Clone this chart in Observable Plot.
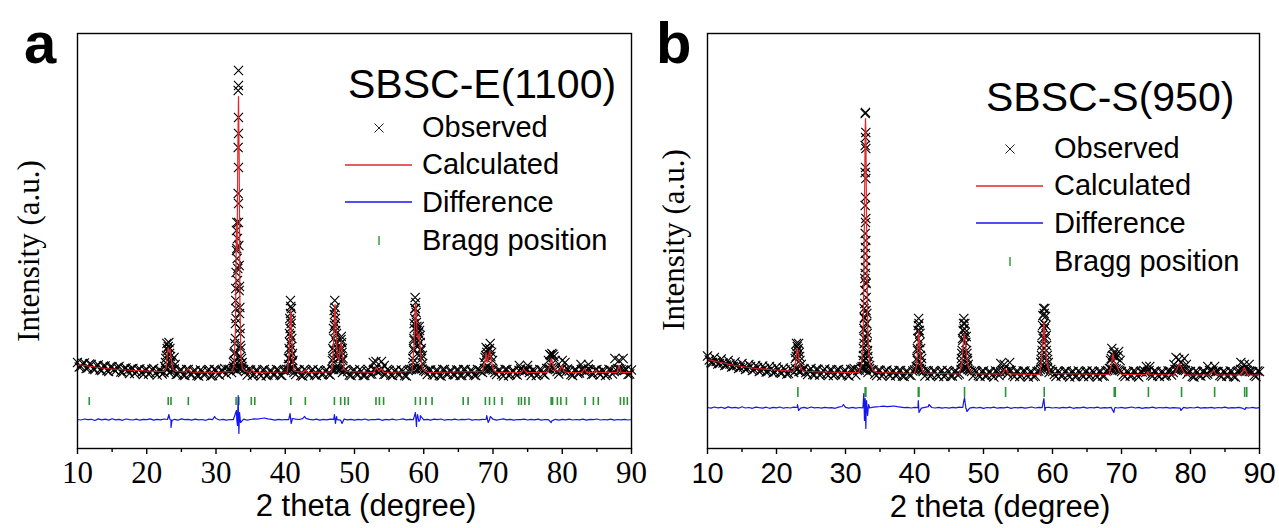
<!DOCTYPE html>
<html><head><meta charset="utf-8">
<script src="https://cdn.jsdelivr.net/npm/d3@7"></script>
<script src="https://cdn.jsdelivr.net/npm/@observablehq/plot@0.6"></script>
<style>
html,body{margin:0;padding:0;background:#fff;}
#wrap{position:relative;width:1279px;height:528px;overflow:hidden;background:#fff;}
#wrap > svg, #wrap > figure{position:absolute;top:0;margin:0;}
.t{position:absolute;white-space:nowrap;line-height:1;color:#000;}
.sans{font-family:"Liberation Sans",Arial,sans-serif;}
.serif{font-family:"Liberation Serif","Times New Roman",serif;}
</style></head><body><div id="wrap"></div>
<script>
// ---------- shared axis ticks ----------
const xMajor = [10, 20, 30, 40, 50, 60, 70, 80, 90];
const xMinor = [15, 25, 35, 45, 55, 65, 75, 85];
// observed scan background, read on two interleaved 0.5-degree grids (10, 10.5, ... and 10.25, 10.75, ...)
const gridStart1 = 10, gridStart2 = 10.25, gridStep = 0.5;

// ---------- panel a : SBSC-E(1100) ----------
const obsGridA = [860,820,855,805,840,790,835,780,825,770,815,775,820,760,805,750,800,765,795,740,
790,755,800,735,780,760,790,770,795,745,785,730,790,740,780,725,775,745,790,730,
785,735,775,745,790,800,780,800,790,735,785,740,780,725,790,735,775,740,785,730,
780,790,800,740,785,725,780,740,790,730,775,745,785,735,790,800,795,780,770,730,
785,740,775,730,790,745,790,770,795,745,780,730,785,740,775,725,790,800,790,805,
780,740,785,735,780,725,790,745,775,735,785,730,790,745,775,730,785,760,800,795,
785,740,780,725,790,740,775,735,795,770,790,730,780,740,785,735,800,810,790,745,
800,765,775,730,785,755,800,770,785,745,790,735,775,740,785,770,800,790,780,740,785];
const obsGrid2A = [815,850,800,845,795,830,785,825,780,815,790,810,
765,800,780,795,750,790,760,785,745,790,755,780,
745,800,760,790,740,780,735,790,745,775,730,785,
740,780,725,790,745,780,800,790,760,795,805,800,
770,790,730,780,745,785,730,775,740,790,735,780,
790,795,760,785,730,790,745,780,735,785,740,775,
745,790,800,790,760,790,735,780,745,790,730,775,
745,790,770,780,740,790,735,775,745,785,730,780,
790,805,800,795,770,785,740,780,730,790,745,775,
740,785,730,790,745,780,735,790,770,800,790,795,
760,780,740,790,730,775,745,780,775,790,760,785,
730,790,745,800,795,800,770,790,780,795,740,785,
750,790,770,795,740,785,760,780,730,790,745,785,
795,780,790,745];
const obsPeakX_A = [22.9,23.2,23.05,23.35,22.85,23.45,22.7,23.6,23.95,24.1,22.6,23.1,22.95,23.3,22.75,23.5,
33.25,33.25,33.2,33.25,33.25,33.2,33.25,33.2,33.25,33.25,33.0,32.95,33.1,33.3,32.95,33.05,33.35,32.9,33.1,33.35,32.85,33.45,32.9,33.45,32.8,33.5,32.75,33.55,32.65,33.65,32.55,33.75,
32.85,33.4,32.8,33.5,32.7,33.6,32.6,33.7,32.5,33.8,33.0,33.15,32.9,33.4,
40.75,40.8,40.75,40.85,40.7,40.8,40.65,40.9,40.7,40.95,40.6,41.0,40.5,40.6,40.95,40.55,41.05,40.85,40.65,40.9,40.45,41.1,
47.15,47.2,47.1,47.25,47.1,47.3,47.0,47.35,47.0,47.4,48.1,48.15,48.0,48.2,47.9,48.3,46.9,47.6,
47.05,47.25,46.95,47.4,46.85,47.5,46.8,47.7,48.05,48.25,48.35,
52.7,53.1,53.9,54.3,
58.75,58.85,58.7,58.9,58.7,58.95,58.65,59.05,59.25,59.4,58.6,59.2,59.5,58.55,59.6,59.3,59.7,58.45,59.85,
58.8,58.6,59.0,58.55,59.15,59.35,59.5,58.5,59.65,58.4,59.8,59.1,
69.0,69.6,69.4,69.1,68.85,69.8,69.95,68.7,69.2,69.5,68.95,69.7,
73.8,75.0,78.2,78.5,78.8,80.0,80.4,78.35,78.65,78.0,79.0,82.7,83.8,87.6,88.2,88.8];
const obsPeakY_A = [1050,1060,980,1000,930,920,860,880,910,840,820,1020,1000,950,900,860,
3780,3630,3580,3310,3150,3010,2810,2550,2450,2260,2260,2180,2100,2030,1980,1900,1830,1760,1680,1580,1480,1410,1300,1200,1100,1030,960,920,880,850,820,820,
1600,1620,1250,1150,1050,1000,950,900,860,860,2000,1800,1400,1350,
1480,1420,1350,1280,1200,1130,1060,1020,980,930,900,860,840,1150,1100,1000,950,1250,1300,1400,900,880,
1480,1410,1340,1300,1230,1180,1100,1060,980,960,1120,1060,1000,960,910,880,900,900,
1380,1250,1200,1150,1000,1000,880,900,1090,1000,900,
860,870,870,830,
1510,1460,1400,1360,1300,1260,1200,1180,1160,1180,1080,1080,1060,980,980,930,900,860,850,
1400,1250,1220,1100,1120,1220,1130,1000,1000,900,930,1020,
1010,1050,980,960,910,960,880,860,990,1000,930,920,
830,830,940,950,920,880,860,930,940,880,880,840,840,900,880,900];
const calcX_A = [10,11,12,13,14,15,17,20,22.5,22.8,22.95,23.1,23.25,23.4,23.55,23.8,24.2,25.7,26.0,26.3,
30,32.3,32.6,32.8,32.9,32.95,33.05,33.15,33.25,33.35,33.45,33.6,33.8,34.2,34.9,35.2,35.5,
40.3,40.55,40.7,40.8,40.9,41.05,41.3,42.6,42.9,43.2,
46.7,46.95,47.1,47.2,47.3,47.5,47.75,47.95,48.1,48.25,48.5,48.9,
52.8,53.15,53.5,53.9,54.25,
58.3,58.6,58.75,58.85,58.95,59.05,59.2,59.35,59.55,59.8,60.2,60.6,
68.5,68.85,69.0,69.15,69.35,69.55,69.75,70.1,70.5,
74.1,74.45,74.8,77.9,78.25,78.45,78.65,79.0,79.6,79.95,80.25,80.6,
82.9,83.2,83.5,84.6,84.85,85.1,87.9,88.2,88.5,90];
const calcY_A = [840,830,820,810,800,795,785,775,770,800,930,1010,960,990,880,790,770,765,800,765,
760,770,830,1180,1880,2230,1980,2980,3520,2880,1480,930,800,770,760,790,760,
765,930,1280,1380,1230,900,775,760,785,760,
765,980,1330,1440,1280,930,880,1030,1060,930,790,770,
760,810,770,800,760,
770,1030,1380,1450,1280,1130,1100,1150,930,800,770,760,
770,880,960,860,920,980,880,780,760,
760,795,760,760,840,900,840,780,770,830,770,760,
760,800,760,760,785,760,760,830,760,760];
const diffGridA = [290,285,295,288,292,280,296,287,293,284,297,286,291,282,295,289,285,294,283,292,
288,296,284,291,287,295,290,286,292,283,296,288,291,284,293,287,290,282,294,289,
300,285,292,283,290,288,290,287,294,283,290,296,293,300,305,296,291,284,292,286,
290,288,284,293,290,298,302,292,286,293,284,291,287,294,292,288,283,294,286,292,
283,291,287,295,284,290,288,294,282,291,287,293,285,290,296,286,292,289,290,293,
286,291,284,293,288,295,283,290,287,294,285,291,288,295,284,290,287,292,290,286,
293,284,290,296,286,292,283,290,288,294,285,291,287,293,284,290,288,276,292,284,
291,286,294,285,290,287,293,284,291,288,295,285,290,287,293,284,290,286,292,285,290];
const diffSpikeX_A = [23.2,23.35,23.5,23.65,29.8,32.95,33.1,33.2,33.3,33.4,33.55,40.7,40.85,41.0,42.8,
47.1,47.25,47.4,48.2,58.8,58.95,59.1,59.3,59.5,69.1,69.3,69.6,78.4];
const diffSpikeY_A = [340,290,210,280,320,380,230,530,150,360,260,350,250,300,320,
340,250,320,250,360,220,340,270,330,330,260,320,260];
const braggA = [11.7,23.1,23.5,26.0,32.9,33.3,35.1,35.6,40.8,42.9,47.1,48.0,48.6,49.1,53.1,53.6,54.2,
58.8,59.5,60.3,61.2,65.7,66.4,68.9,69.5,70.2,71.3,73.7,74.1,74.6,75.2,78.4,78.6,79.3,79.8,80.6,
83.3,84.5,85.2,88.4,88.9,89.4];
const braggSpanA = [430, 510];

// ---------- panel b : SBSC-S(950) ----------
const obsGridB = [925,860,910,845,895,830,880,815,865,800,850,790,840,780,830,770,825,765,820,755,
815,760,805,745,800,760,790,770,795,740,800,735,790,745,795,730,785,740,790,735,
780,725,790,735,785,800,790,800,785,730,780,740,785,725,775,735,780,720,770,730,
785,800,790,725,775,735,770,720,780,730,770,725,775,745,800,805,780,725,770,720,
775,730,765,715,770,760,790,745,780,720,770,730,775,715,765,725,775,800,805,760,
770,720,765,730,775,715,770,725,765,720,775,730,765,715,770,725,780,790,800,785,
770,720,765,730,770,715,765,760,780,725,770,720,765,730,775,760,790,800,785,745,
770,715,765,725,770,745,780,760,770,720,765,725,770,715,775,790,780,770,765,720,770];
const obsGrid2B = [885,860,870,850,855,835,845,820,830,810,815,800,
820,790,810,780,800,770,795,765,790,755,785,750,
785,800,770,790,760,780,740,790,735,780,745,785,
730,785,740,775,735,790,800,780,805,795,760,785,
745,780,725,775,740,770,730,780,725,770,735,775,
790,800,770,780,725,775,735,770,720,780,725,770,
735,790,805,790,770,780,730,770,725,765,735,775,
730,780,770,785,735,770,720,775,730,765,720,770,
790,810,800,790,740,775,725,770,735,765,720,775,
730,770,720,775,730,770,725,775,800,790,795,780,
735,770,725,775,730,770,780,770,735,775,730,765,
725,775,735,790,795,790,780,770,720,775,730,770,
735,780,775,770,730,770,725,775,720,770,790,795,
780,770,730,775];
const obsPeakX_B = [22.9,23.2,23.05,22.8,23.3,22.7,23.4,23.6,23.0,23.15,22.85,23.35,
32.9,32.85,32.95,32.9,32.85,32.95,32.9,32.85,32.95,32.9,32.85,32.95,32.9,32.85,32.95,32.9,32.85,32.95,32.9,32.85,32.95,32.8,33.0,32.8,33.0,32.75,33.05,32.75,33.05,32.7,33.1,32.7,33.1,32.65,
32.7,33.1,32.65,33.15,32.6,33.2,32.5,33.35,32.4,33.5,
32.8,33.0,32.75,33.05,32.7,33.15,32.6,33.25,
40.6,40.55,40.7,40.5,40.75,40.45,40.85,40.4,41.0,40.25,40.65,40.5,40.8,40.4,40.9,40.35,41.05,
47.1,47.3,47.05,47.35,47.0,47.45,46.9,47.55,46.8,47.65,47.8,47.2,47.15,47.25,46.95,47.5,46.85,47.6,47.7,46.75,
52.5,53.0,53.8,
58.7,58.9,58.6,59.0,58.55,59.05,58.5,59.1,58.45,59.15,58.4,59.25,58.3,59.4,
58.8,58.75,58.85,58.65,58.95,58.5,59.1,58.35,59.3,
68.6,68.9,69.6,69.3,68.4,69.8,68.7,69.5,68.5,69.0,
73.6,74.1,77.9,78.3,79.1,78.6,77.6,79.4,82.5,83.5,87.3,87.8,88.5];
const obsPeakY_B = [1050,1050,980,960,960,900,880,840,1020,1000,920,920,
3360,3350,3160,3110,3030,3000,2810,2760,2700,2510,2430,2300,2260,2150,2080,2010,1950,1880,1810,1750,1660,1580,1510,1450,1380,1310,1250,1180,1110,1050,950,880,840,820,
1400,1350,1200,1150,1000,980,880,870,820,830,
1700,1650,1300,1250,1100,1050,930,920,
1300,1230,1180,1100,1060,980,930,880,850,820,1250,1180,1150,1000,1000,900,900,
1250,1250,1180,1160,1080,1060,980,980,900,900,840,1200,1300,1120,1100,1120,950,950,880,860,
850,840,860,
1400,1400,1330,1320,1230,1230,1130,1130,1030,1030,930,930,860,860,
1350,1250,1200,1100,1100,980,980,890,890,
1000,960,970,910,880,880,930,930,900,920,
820,820,910,890,900,860,840,840,820,820,860,840,840];
const calcX_B = [10,11,12,13,14,15,17,20,22,22.5,22.8,22.95,23.05,23.2,23.5,24.0,27,30,
31.9,32.3,32.55,32.7,32.85,32.9,32.95,33.1,33.25,33.5,34.0,34.5,
40.0,40.3,40.5,40.6,40.75,40.95,41.3,
46.5,46.85,47.05,47.2,47.35,47.55,47.8,48.3,50,52.7,53.15,53.6,
58.1,58.35,58.55,58.75,58.95,59.2,59.6,
68.2,68.5,68.75,69.0,69.3,69.6,70.0,73.5,73.8,74.1,
77.6,78.0,78.4,78.8,79.3,82.8,83.3,83.8,87.3,87.8,88.3,90];
const calcY_B = [890,875,860,845,830,820,800,785,775,770,880,980,1000,910,800,770,765,760,
760,830,1080,1980,3180,3300,3180,1880,1080,860,780,760,
750,830,1030,1180,1030,820,755,
745,840,1030,1150,1080,930,810,750,745,745,800,745,
740,830,1030,1270,1030,850,750,
740,820,950,860,830,780,740,740,770,740,
735,790,850,790,735,735,780,735,735,810,735,735];
const diffGridB = [410,404,415,406,412,401,416,407,411,403,417,405,410,402,414,408,404,413,402,411,
406,415,403,410,405,413,410,404,411,402,415,407,410,403,412,406,409,402,414,420,
412,404,411,403,410,406,410,405,413,417,420,424,418,422,425,418,414,408,412,405,
411,408,404,412,418,410,405,412,404,410,403,411,406,413,410,400,404,412,405,411,
402,410,406,414,403,409,407,413,401,410,406,412,404,409,415,405,411,408,410,412,
405,410,403,412,407,414,402,409,406,413,404,410,407,414,403,409,406,411,404,405,
412,403,409,415,405,411,402,409,407,413,404,410,406,412,403,409,407,404,411,403,
410,405,413,404,409,406,412,403,410,407,414,404,409,406,412,403,408,405,411,404,409];
const diffSpikeX_B = [23.05,23.2,29.7,32.55,32.65,32.75,32.85,32.95,33.05,33.2,33.35,40.55,40.65,42.1,
47.1,47.25,47.45,47.6,58.75,58.9,68.9,69.1,78.6,87.9];
const diffSpikeY_B = [440,380,440,430,550,280,500,200,480,330,440,480,360,440,
460,510,400,370,500,380,360,410,380,390];
const braggB = [23.1,32.85,32.95,40.55,40.65,47.25,53.2,58.8,68.95,69.1,73.9,78.7,83.5,87.85,88.15];
const braggSpanB = [510, 610];

// ---------- build ----------
const wrap = document.getElementById("wrap");
function pts(xs, ys) { return xs.map((x, i) => ({x, y: ys[i]})); }
function grid(vals, start) { return vals.map((y, i) => ({x: start + i * gridStep, y})); }

function panel(o) {
  const obs = grid(o.obsGrid, gridStart1).concat(grid(o.obsGrid2, gridStart2), pts(o.peakX, o.peakY));
  const diff = grid(o.diffGrid, gridStart1).concat(pts(o.spikeX, o.spikeY)).sort((a, b) => a.x - b.x);
  const calc = pts(o.calcX, o.calcY);
  const chart = Plot.plot({
    width: o.width, height: 528,
    marginLeft: o.ml, marginRight: o.mr, marginTop: 33, marginBottom: 80,
    x: {domain: [10, 90], label: null, axis: null},
    y: {domain: [0, 4150], axis: null, label: null},
    style: {background: "transparent", color: "#000", overflow: "visible"},
    marks: [
      Plot.ruleX(o.bragg, {x: d => d, y1: o.span[0], y2: o.span[1], stroke: "#2a9432", strokeWidth: 1.6}),
      Plot.line(diff, {x: "x", y: "y", stroke: "#1515f0", strokeWidth: 1.2}),
      Plot.dot(obs, {x: "x", y: "y", symbol: "times", r: 4.2, stroke: "#000", strokeWidth: 1.15, fill: "none"}),
      Plot.line(calc, {x: "x", y: "y", stroke: "#e4262a", strokeWidth: 1.2}),
      Plot.frame({stroke: "#000", strokeWidth: 1.4}),
      Plot.axisX({ticks: xMinor, tickSize: 4, tickFormat: () => "", label: null, strokeWidth: 1.4}),
      Plot.axisX({ticks: xMajor, tickSize: 6, tickFormat: () => "", label: null, strokeWidth: 1.4}),
      Plot.text(xMajor, {x: d => d, text: d => String(d), frameAnchor: "bottom", dy: o.dy, lineAnchor: "middle",
        fontSize: o.fs, fontFamily: o.font, fill: "#000"})
    ]
  });
  chart.style.left = o.left + "px";
  wrap.appendChild(chart);
}

panel({obsGrid: obsGridA, obsGrid2: obsGrid2A, peakX: obsPeakX_A, peakY: obsPeakY_A, calcX: calcX_A, calcY: calcY_A,
  diffGrid: diffGridA, spikeX: diffSpikeX_A, spikeY: diffSpikeY_A, bragg: braggA, span: braggSpanA,
  width: 640, left: 0, ml: 77, mr: 9, fs: 31, dy: 25, font: '"Liberation Serif","Times New Roman",serif'});
panel({obsGrid: obsGridB, obsGrid2: obsGrid2B, peakX: obsPeakX_B, peakY: obsPeakY_B, calcX: calcX_B, calcY: calcY_B,
  diffGrid: diffGridB, spikeX: diffSpikeX_B, spikeY: diffSpikeY_B, bragg: braggB, span: braggSpanB,
  width: 639, left: 640, ml: 67, mr: 20, fs: 29, dy: 25, font: '"Liberation Sans",Arial,sans-serif'});

// ---------- text ----------
function txt(s, cls, fs, x, base, opts = {}) {
  const d = document.createElement("div");
  d.className = "t " + cls;
  d.textContent = s;
  d.style.fontSize = fs + "px";
  const k = cls === "serif" ? 0.8375 : 0.8465;
  d.style.top = (base - k * fs) + "px";
  d.style.left = x + "px";
  if (opts.bold) d.style.fontWeight = "bold";
  if (opts.center) d.style.transform = "translateX(-50%)";
  wrap.appendChild(d);
}
function vtxt(s, cls, fs, cx, cy) {
  const d = document.createElement("div");
  d.className = "t " + cls;
  d.textContent = s;
  d.style.fontSize = fs + "px";
  d.style.left = cx + "px";
  d.style.top = cy + "px";
  d.style.transform = "translate(-50%,-50%) rotate(-90deg)";
  wrap.appendChild(d);
}
txt("a", "sans", 58, 24, 63, {bold: true});
txt("b", "sans", 58, 656, 63, {bold: true});
txt("2 theta (degree)", "sans", 31, 366, 516, {center: true});
txt("2 theta (degree)", "sans", 31, 1000, 517, {center: true});
vtxt("Intensity (a.u.)", "serif", 31, 28, 251);
vtxt("Intensity (a.u.)", "serif", 31, 673, 240);

const legendLabels = ["Observed", "Calculated", "Difference", "Bragg position"];
txt("SBSC-E(1100)", "sans", 41, 348, 99);
txt("SBSC-S(950)", "sans", 41, 986, 112);
const legA = {tx: 422, base: [138, 175, 213, 251], sx: 379, l0: 345, l1: 412};
const legB = {tx: 1054, base: [159, 196, 234, 272], sx: 1010, l0: 976, l1: 1043};
const key = d3.select(wrap).append("svg").attr("width", 1279).attr("height", 528)
  .style("position", "absolute").style("left", 0).style("top", 0).style("pointer-events", "none");
for (const L of [legA, legB]) {
  legendLabels.forEach((s, i) => txt(s, "sans", 29, L.tx, L.base[i]));
  const yo = L.base[0] - 10, yc = L.base[1] - 10, yd = L.base[2] - 11, yb = L.base[3] - 10;
  key.append("path").attr("d", `M${L.sx-4.5},${yo-4.5}L${L.sx+4.5},${yo+4.5}M${L.sx-4.5},${yo+4.5}L${L.sx+4.5},${yo-4.5}`)
    .attr("stroke", "#222").attr("stroke-width", 1);
  key.append("line").attr("x1", L.l0).attr("x2", L.l1).attr("y1", yc).attr("y2", yc).attr("stroke", "#e4262a").attr("stroke-width", 1.3);
  key.append("line").attr("x1", L.l0).attr("x2", L.l1).attr("y1", yd).attr("y2", yd).attr("stroke", "#1515f0").attr("stroke-width", 1.3);
  key.append("line").attr("x1", L.sx).attr("x2", L.sx).attr("y1", yb - 5).attr("y2", yb + 4).attr("stroke", "#2a9432").attr("stroke-width", 1.4);
}
</script></body></html>
